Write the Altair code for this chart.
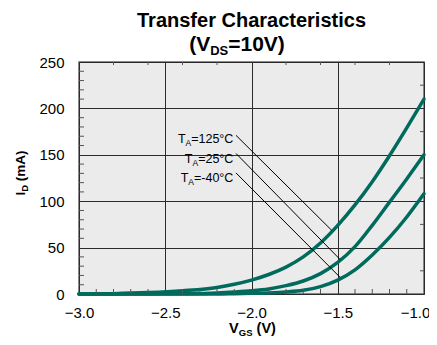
import altair as alt
import pandas as pd

# ---------------- data ----------------
vgs = [-3.0, -2.8, -2.6, -2.4, -2.2, -2.1, -2.0, -1.9, -1.8, -1.7, -1.6, -1.5, -1.4, -1.3, -1.2, -1.1, -1.0]
id_125 = [0, 0.4, 1.5, 3.5, 7.0, 10.5, 15, 21, 29, 40, 55, 74, 96, 121, 149, 179, 210]
id_25 = [0, 0, 0, 0.3, 1.2, 2.2, 3.5, 5.5, 9, 14, 22, 34, 51, 74, 99, 124, 150]
id_m40 = [0, 0, 0, 0, 0, 0.3, 0.7, 1.2, 2.2, 4, 8, 15, 26, 42, 61, 83, 108]
temps = ["125", "25", "-40"]

x_major = [-3.0, -2.5, -2.0, -1.5, -1.0]
y_major = [0, 50, 100, 150, 200, 250]
x_minor_bottom = [-2.9, -2.8, -2.7, -2.6, -2.4, -2.3, -2.2, -2.1, -1.9, -1.8, -1.7, -1.6, -1.4, -1.3, -1.2, -1.1]
x_minor_top = [-2.8, -2.6, -2.4, -2.2, -1.8, -1.6, -1.4, -1.2]
y_minor_left = [10, 20, 30, 40, 60, 70, 80, 90, 110, 120, 130, 140, 160, 170, 180, 190, 210, 220, 230, 240]
y_minor_right = [25, 75, 125, 175, 225]

ann_suffix = ["=125°C", "=25°C", "=-40°C"]
ann_label_v = [-2.105, -2.105, -2.105]
ann_label_i = [162.5, 141.0, 120.5]
ann_line_v0 = [-2.09, -2.09, -2.09]
ann_line_i0 = [171.0, 151.5, 130.5]
ann_line_v1 = [-1.535, -1.487, -1.487]
ann_line_i1 = [68.6, 37.3, 18.1]

W, H = 345, 232
FONT = "Liberation Sans"
CURVE = "#006a5d"

# ---------------- helpers ----------------
AR = {"T": 611, "A": 667, "=": 584, "°": 400, "C": 722, "-": 333, " ": 278}
ARB = {"(": 333, ")": 333, "V": 667, "D": 722, "S": 667, "=": 584, "G": 778,
       " ": 278, "I": 278, "m": 889, "A": 722}


def tw(s, size, bold):
    tbl = ARB if bold else AR
    return sum(tbl.get(c, 556) for c in s) * size / 1000.0


xs = alt.Scale(domain=[-3.0, -1.0], nice=False, zero=False)
ys = alt.Scale(domain=[0, 250], nice=False, zero=False)
x_axis = alt.Axis(values=x_major, format=".1f", grid=True, ticks=False, domain=False,
                  labelFontSize=15, labelFont=FONT, labelColor="#000", labelPadding=11,
                  labelFlush=False, labelOverlap=False, gridColor="#2a2a2a", gridWidth=1,
                  labelOffset={"condition": {"test": "datum.value >= -1.01", "value": -9}, "value": 0},
                  title=None)
y_axis = alt.Axis(values=y_major, format="d", grid=True, ticks=False, domain=False,
                  labelFontSize=15, labelFont=FONT, labelColor="#000", labelPadding=15,
                  labelFlush=False, labelOverlap=False, gridColor="#2a2a2a", gridWidth=1,
                  title=None)


def X(field):
    return alt.X(field, type="quantitative", scale=xs, axis=x_axis)


def Y(field):
    return alt.Y(field, type="quantitative", scale=ys, axis=y_axis)


def seg_text(segments, x, y, anchor="center", angle=0, data_pos=False):
    """segments: list of (text, size, bold, dy). Returns list of text layers."""
    widths = [tw(t, s, b) for t, s, b, _ in segments]
    total = sum(widths)
    start = {"center": -total / 2, "right": -total, "left": 0}[anchor]
    layers = []
    off = start
    for (t, s, b, dy), w in zip(segments, widths):
        lead = len(t) - len(t.lstrip(" "))
        txt = t.lstrip(" ")
        pos = off + tw(" " * lead, s, b)
        mk = dict(text=txt, fontSize=s, font=FONT, fontWeight="bold" if b else "normal",
                  align="left", baseline="alphabetic", dx=pos, dy=dy, color="#000")
        if angle:
            mk["angle"] = angle
        if data_pos:
            df = pd.DataFrame({"v": [x], "i": [y]})
            layers.append(alt.Chart(df).mark_text(**mk).encode(x=X("v"), y=Y("i")))
        else:
            df = pd.DataFrame({"k": [0]})
            layers.append(alt.Chart(df).mark_text(**mk).encode(x=alt.value(x), y=alt.value(y)))
        off += w
    return layers


# ---------------- curves ----------------
rows = []
for t, arr in zip(temps, [id_125, id_25, id_m40]):
    for v, i in zip(vgs, arr):
        rows.append({"v": v, "i": i, "T": t})
curves_df = pd.DataFrame(rows)

curves = alt.Chart(curves_df).mark_line(
    color=CURVE, strokeWidth=3.5, interpolate="monotone", strokeCap="round"
).encode(x=X("v"), y=Y("i"), detail="T:N")

# ---------------- minor ticks ----------------
tick_color = "#555"
t_bottom = alt.Chart(pd.DataFrame({"v": x_minor_bottom})).mark_rule(color=tick_color, strokeWidth=1).encode(
    x=X("v"), y=alt.value(H), y2=alt.value(H - 5))
t_top = alt.Chart(pd.DataFrame({"v": x_minor_top})).mark_rule(color=tick_color, strokeWidth=1).encode(
    x=X("v"), y=alt.value(0), y2=alt.value(3))
t_left = alt.Chart(pd.DataFrame({"i": y_minor_left})).mark_rule(color=tick_color, strokeWidth=1).encode(
    y=Y("i"), x=alt.value(0), x2=alt.value(5))
t_right = alt.Chart(pd.DataFrame({"i": y_minor_right})).mark_rule(color=tick_color, strokeWidth=1).encode(
    y=Y("i"), x=alt.value(W), x2=alt.value(W - 4))

# ---------------- annotations ----------------
ann_df = pd.DataFrame({"v": ann_line_v0, "i": ann_line_i0, "v2": ann_line_v1, "i2": ann_line_i1})
ann_lines = alt.Chart(ann_df).mark_rule(color="#000", strokeWidth=1).encode(
    x=X("v"), y=Y("i"), x2="v2:Q", y2="i2:Q")

ann_text = []
for suf, lv, li in zip(ann_suffix, ann_label_v, ann_label_i):
    ann_text += seg_text([("T", 12.5, False, 0), ("A", 8.5, False, 3), (suf, 12.5, False, 0)],
                         lv, li, anchor="right", data_pos=True)

# ---------------- titles ----------------
title1 = alt.Chart(pd.DataFrame({"k": [0]})).mark_text(
    text="Transfer Characteristics", fontSize=20, font=FONT, fontWeight="bold",
    align="center", baseline="alphabetic", color="#000"
).encode(x=alt.value(W / 2), y=alt.value(-35))

titles = [title1]
titles += seg_text([("(V", 21, True, 0), ("DS", 13, True, 4), ("=10V)", 21, True, 0)], 158, -11)
titles += seg_text([("V", 14.5, True, 0), ("GS", 9.5, True, 3), (" (V)", 14.5, True, 0)], W / 2 + 1, H + 39)
titles += seg_text([("I", 13.5, True, 0), ("D", 9.5, True, 3), (" (mA)", 13.5, True, 0)], -54, 111, angle=270)

chart = alt.layer(
    curves, t_bottom, t_top, t_left, t_right, ann_lines, *ann_text, *titles
).properties(
    width=W, height=H,
    autosize=alt.AutoSizeParams(type="none"),
    padding={"left": 71, "top": 54, "right": 5, "bottom": 43},
).configure_view(
    fill="#ebebeb", stroke="#666", strokeWidth=1.5
)

chart.save("out.html", embed_options={"renderer": "svg", "actions": False})
